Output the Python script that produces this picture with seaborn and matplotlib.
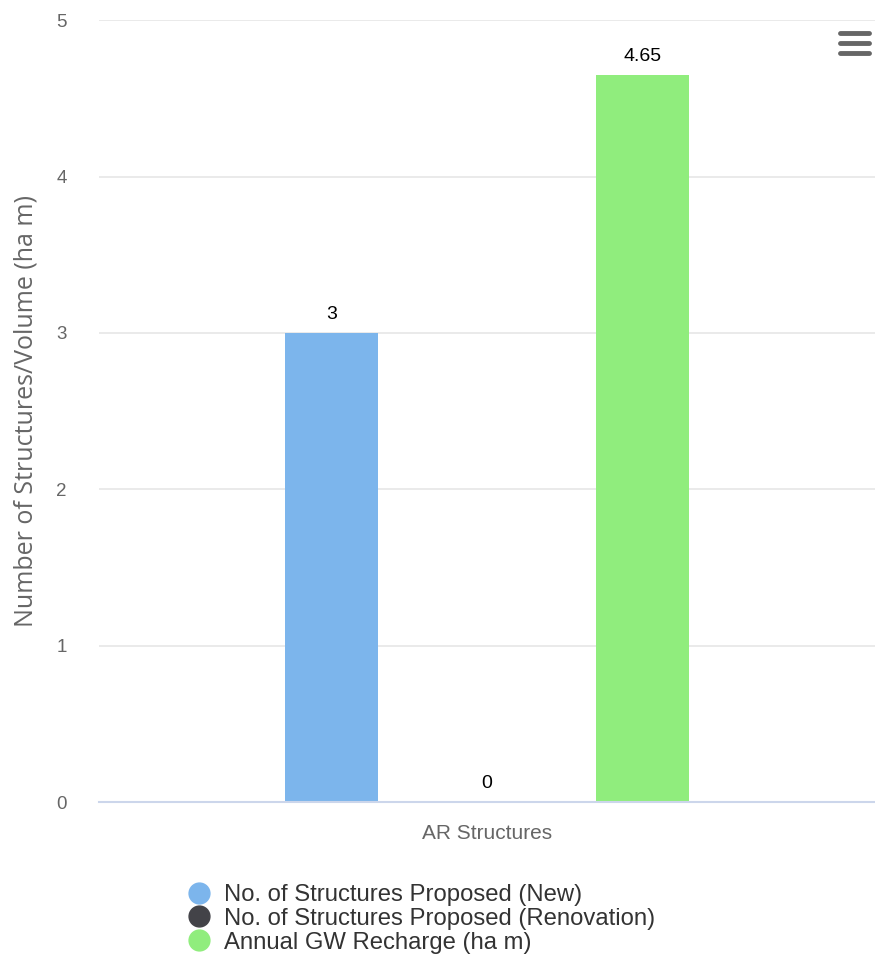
import matplotlib
matplotlib.use('Agg')
import matplotlib.pyplot as plt
import pandas as pd
import seaborn as sns
from matplotlib.lines import Line2D

# ── data ─────────────────────────────────────────────
categories = ['AR Structures']
series = ['No. of Structures Proposed (New)',
          'No. of Structures Proposed (Renovation)',
          'Annual GW Recharge (ha m)']
values = [3, 0, 4.65]
value_labels = ['3', '0', '4.65']
colors = ['#7cb5ec', '#434348', '#90ed7d']

df = pd.DataFrame({'category': categories * len(series),
                   'series': series,
                   'value': values})

sns.set_theme(style='white')
plt.rcParams['font.family'] = ['Liberation Sans', 'DejaVu Sans']

fig = plt.figure(figsize=(8.75, 9.64), dpi=100)
ax = fig.add_axes([0.113, 0.168, 0.887, 0.811])

sns.barplot(data=df, x='category', y='value', hue='series', palette=colors,
            width=0.6, gap=0.4, ax=ax, legend=False, saturation=1,
            edgecolor='none', linewidth=0)

# value labels
for cont, lab in zip(ax.containers, value_labels):
    ax.bar_label(cont, labels=[lab], padding=7, fontsize=14, color='#000000')

ax.set_xlim(-0.5, 0.5)
ax.set_ylim(0, 5)
ax.set_yticks([0, 1, 2, 3, 4, 5])
ax.yaxis.grid(True, color='#e6e6e6', lw=1.2)
ax.set_axisbelow(True)
for s in ['top', 'right', 'left']:
    ax.spines[s].set_visible(False)
ax.spines['bottom'].set_color('#ccd6eb')
ax.spines['bottom'].set_linewidth(1.5)
ax.tick_params(axis='y', length=0, pad=23, labelsize=13.5, labelcolor='#666666')
ax.tick_params(axis='x', length=0, pad=16, labelsize=15, labelcolor='#666666')
ax.set_xlabel('')
ax.set_ylabel('Number of Structures/Volume (ha m)', fontsize=18, color='#666666',
              family=['Open Sans', 'DejaVu Sans'])
ax.yaxis.set_label_coords(-0.078, 0.5)

# legend below the chart
handles = [Line2D([0], [0], marker='o', ls='', markersize=15,
                  markerfacecolor=c, markeredgecolor=c) for c in colors]
fig.legend(handles, series, loc='upper left', bbox_to_anchor=(0.205, 0.093),
           frameon=False, fontsize=17.2, handletextpad=0.6, labelspacing=0.08,
           labelcolor='#333333', borderaxespad=0, handlelength=0.85)

# menu icon
for yy in [0.9658, 0.9554, 0.945]:
    fig.add_artist(Line2D([0.96, 0.993], [yy, yy], color='#666666', lw=3.5,
                          solid_capstyle='round', transform=fig.transFigure))

fig.savefig('out.png', dpi=100, facecolor='white')
